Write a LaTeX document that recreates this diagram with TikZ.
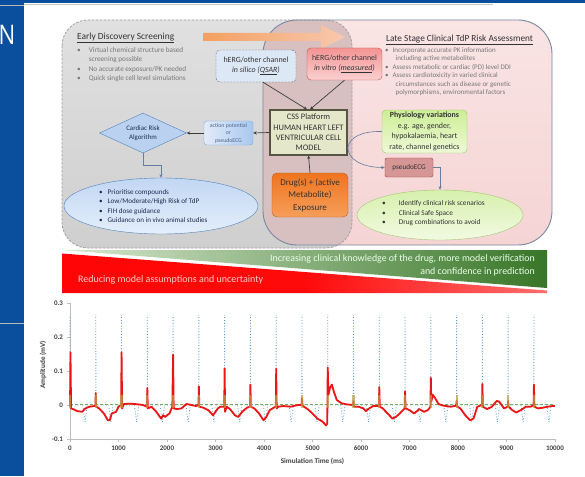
\documentclass[tikz,border=0pt]{standalone}
\usepackage{fontspec}
\setmainfont{Carlito}
\newfontfamily\nfont{Open Sans}
\usetikzlibrary{arrows.meta,shapes.geometric}
\definecolor{bandblue}{RGB}{10,79,158}
\definecolor{grayA}{RGB}{224,224,224}
\definecolor{grayB}{RGB}{207,207,207}
\definecolor{pinkA}{RGB}{250,228,228}
\definecolor{pinkB}{RGB}{245,212,212}
\definecolor{mauve}{RGB}{216,192,193}
\definecolor{pinkborder}{RGB}{120,136,160}
\definecolor{orngA}{RGB}{244,160,96}
\definecolor{orngB}{RGB}{247,200,175}
\definecolor{bultext}{RGB}{120,120,120}
\definecolor{darktext}{RGB}{50,50,50}
\definecolor{connblue}{RGB}{100,125,160}
\definecolor{darkline}{RGB}{60,60,60}
\definecolor{silicofill}{RGB}{220,232,246}
\definecolor{vitroA}{RGB}{244,148,148}
\definecolor{vitroB}{RGB}{250,208,208}
\definecolor{vitroborder}{RGB}{192,80,80}
\definecolor{cssfill}{RGB}{229,231,202}
\definecolor{cssborder}{RGB}{85,85,65}
\definecolor{drugA}{RGB}{239,116,32}
\definecolor{drugB}{RGB}{247,158,90}
\definecolor{apA}{RGB}{226,236,250}
\definecolor{apB}{RGB}{168,200,240}
\definecolor{aptext}{RGB}{80,100,140}
\definecolor{riskfill}{RGB}{186,210,240}
\definecolor{riskborder}{RGB}{79,129,189}
\definecolor{bellA}{RGB}{194,215,243}
\definecolor{bellB}{RGB}{228,238,251}
\definecolor{navytext}{RGB}{30,45,80}
\definecolor{physA}{RGB}{205,238,150}
\definecolor{physB}{RGB}{238,249,214}
\definecolor{physborder}{RGB}{150,200,100}
\definecolor{pseudofill}{RGB}{214,150,150}
\definecolor{pseudoborder}{RGB}{160,60,60}
\definecolor{gellA}{RGB}{214,240,172}
\definecolor{gellB}{RGB}{242,250,226}
\definecolor{gellborder}{RGB}{160,200,110}
\definecolor{bandgreenA}{RGB}{215,232,206}
\definecolor{bandgreenB}{RGB}{56,118,40}
\definecolor{axisgray}{RGB}{190,190,190}
\definecolor{ticktext}{RGB}{64,64,64}
\definecolor{ecgblue}{RGB}{91,155,213}
\definecolor{ecggreen}{RGB}{112,176,80}
\definecolor{ecgred}{RGB}{236,20,20}
\definecolor{ecgolive}{RGB}{190,160,70}
\pgfdeclarehorizontalshading{redfade}{100bp}{color(0bp)=(red); color(50bp)=(red!96!white); color(100bp)=(red!18!white)}
\begin{document}
\begin{tikzpicture}[x=1pt,y=-1pt,
  boxbase/.style={align=center, inner sep=1pt, text=darktext},
  silicobox/.style={boxbase, draw=darkline!80, dashed, dash pattern=on 2pt off 1.2pt, fill=silicofill, rounded corners=4pt, minimum width=80pt, minimum height=32pt, font=\fontsize{7.9}{10}\selectfont},
  vitrobox/.style={boxbase, draw=vitroborder, top color=vitroA, bottom color=vitroB, rounded corners=4pt, minimum width=75pt, minimum height=32pt, font=\fontsize{7.9}{10}\selectfont},
  cssbox/.style={boxbase, draw=cssborder, line width=1.1pt, fill=cssfill, minimum width=77pt, minimum height=45pt, font=\fontsize{8.4}{10.3}\selectfont},
  drugbox/.style={boxbase, draw=drugA!80!black, line width=0.4pt, top color=drugA, bottom color=drugB, rounded corners=5pt, minimum width=76pt, minimum height=44pt, font=\fontsize{9}{12.5}\selectfont, text=black!80},
  apbox/.style={boxbase, draw=riskborder!70, left color=apA, right color=apB, rounded corners=3pt, minimum width=49pt, minimum height=24pt, font=\fontsize{5.8}{7.5}\selectfont, text=aptext},
  riskdia/.style={boxbase, diamond, aspect=2.175, inner sep=0pt, draw=riskborder, fill=riskfill, minimum width=87pt, minimum height=40pt, font=\fontsize{6.9}{9}\selectfont, text=navytext},
  blueell/.style={ellipse, draw=riskborder, top color=bellA, bottom color=bellB, minimum width=194pt, minimum height=56pt, inner sep=0pt},
  physbox/.style={boxbase, draw=physborder, top color=physA, bottom color=physB, rounded corners=4pt, minimum width=85pt, minimum height=43pt, font=\fontsize{7.9}{10.6}\selectfont},
  pseudobox/.style={boxbase, draw=pseudoborder, fill=pseudofill, rounded corners=2pt, minimum width=48pt, minimum height=19pt, font=\fontsize{7.2}{8}\selectfont},
  greenell/.style={ellipse, draw=gellborder, top color=gellA, bottom color=gellB, minimum width=166pt, minimum height=50pt, inner sep=0pt},
  listtxt/.style={anchor=base west, inner sep=0pt, align=left},
  conn/.style={draw=connblue, line width=0.6pt},
  conna/.style={conn, -{Stealth[length=3.5pt,width=3pt]}},
  darka/.style={draw=darkline, line width=0.7pt, -{Stealth[length=3.5pt,width=3.2pt]}},
  ticklbl/.style={font=\bfseries\fontsize{7}{8}\selectfont, text=ticktext, inner sep=0pt},
  axisline/.style={draw=axisgray, line width=0.6pt},
  bandtxt/.style={inner sep=0pt, font=\fontsize{9.9}{11}\selectfont}
]
\useasboundingbox (0,0) rectangle (585,476);
\fill[white] (0,0) rectangle (585,476);

% slide frame
\fill[bandblue] (0,0) rectangle (24,476);
\fill[bandblue] (0,0) rectangle (585,3.5);
\draw[gray!45, line width=0.7pt] (24,4) -- (493,4);
\draw[gray!55, line width=0.9pt] (0,5) -- (24,5);
\draw[gray!55, line width=0.9pt] (0,323) -- (24,323);
\node[text=white, font=\nfont\fontsize{27}{27}\selectfont, anchor=west, inner sep=0pt, xscale=0.82] (nletter) at (-1.5,35) {N};

% regions
\shade[top color=grayA, bottom color=grayB, rounded corners=26pt] (62,20) rectangle (352,248);
\shade[top color=pinkA, bottom color=pinkB, rounded corners=34pt] (263,20) rectangle (552,245);
\begin{scope}
  \clip[rounded corners=26pt] (62,20) rectangle (352,248);
  \fill[mauve, rounded corners=34pt] (263,20) rectangle (552,245);
\end{scope}
\draw[gray!75, line width=0.8pt, dash pattern=on 2.5pt off 1.5pt, rounded corners=26pt] (62,20) rectangle (352,248);
\draw[pinkborder, line width=0.9pt, rounded corners=34pt] (263,20) rectangle (552,245);

% orange arrow
\shade[left color=orngA, right color=orngB] (203,33) -- (321,33) -- (321,25) -- (345,37) -- (321,49) -- (321,41) -- (203,41) -- cycle;

% headers and lists
\node[anchor=west, inner sep=0pt, font=\fontsize{9.4}{11}\selectfont, text=darktext] (edsHead) at (77,38) {\underline{Early Discovery Screening}};
\node[listtxt, font=\fontsize{7.2}{9.4}\selectfont, text=bultext] (edsList) at (77,52.3) {\begin{tabular}[t]{@{}l@{\hspace{8pt}}l@{}}\textbullet & Virtual chemical structure based\\ & screening possible\\ \textbullet & No accurate exposure/PK needed\\ \textbullet & Quick single cell level simulations\end{tabular}};

\node[anchor=west, inner sep=0pt, font=\fontsize{9.3}{11}\selectfont, text=darktext] (lsHead) at (386,40) {\underline{Late Stage Clinical TdP Risk Assessment}};
\node[listtxt, font=\fontsize{7}{8.45}\selectfont, text=bultext] (lsList) at (385,52.3) {\begin{tabular}[t]{@{}l@{\hspace{4pt}}l@{}}\textbullet & Incorporate accurate PK information\\ & \hspace{3pt}including active metabolites\\ \textbullet & Assess metabolic or cardiac (PD) level DDI\\ \textbullet & Assess cardiotoxicity in varied clinical\\ & \hspace{3pt}circumstances such as disease or genetic\\ & \hspace{3pt}polymorphisms, environmental factors\end{tabular}};

% nodes
\node[silicobox] (silico) at (256,66) {hERG/other channel\\\textit{in silico} \textit{(\underline{QSAR})}};
\node[vitrobox] (vitro) at (344.5,64) {hERG/other channel\\\textit{in vitro} \textit{(\underline{measured})}};
\node[cssbox] (css) at (308.5,132.5) {CSS Platform\\HUMAN HEART LEFT\\VENTRICULAR CELL\\MODEL};
\node[drugbox] (drug) at (310,195) {Drug(s) + (active\\Metabolite)\\Exposure};
\node[apbox] (ap) at (228.5,133) {action potential\\or\\pseudoECG};
\node[riskdia] (risk) at (143,133) {Cardiac Risk\\Algorithm};
\node[blueell] (outL) at (161,206) {};
\node[listtxt, font=\fontsize{7.1}{9.4}\selectfont, text=navytext] (outLtxt) at (99,194.3) {\begin{tabular}[t]{@{}l@{\hspace{5pt}}l@{}}\textbullet & Prioritise compounds\\ \textbullet & Low/Moderate/High Risk of TdP\\ \textbullet & FIH dose guidance\\ \textbullet & Guidance on in vivo animal studies\end{tabular}};
\node[physbox] (phys) at (424.5,131.5) {\textbf{Physiology variations}\\e.g. age, gender,\\hypokalaemia, heart\\rate, channel genetics};
\node[pseudobox] (pseudo) at (409,167.5) {pseudoECG};
\node[greenell] (outR) at (440,215) {};
\node[listtxt, font=\fontsize{7.3}{9.6}\selectfont, text=darktext] (outRtxt) at (382,205.5) {\begin{tabular}[t]{@{}l@{\hspace{13pt}}l@{}}\textbullet & Identify clinical risk scenarios\\ \textbullet & Clinical Safe Space\\ \textbullet & Drug combinations to avoid\end{tabular}};

% connectors
\draw[darka] ([xshift=7pt]silico.south) -- ([xshift=-1.5pt]css.north);
\draw[darka] (vitro.south) -- ([xshift=1.5pt]css.north);
\draw[darka] (drug.north) -- (css.south);
\draw[darka] (css.west) -- (ap.east);
\draw[darka] (ap.west) -- (risk.east);
\draw[conna] (risk.south) -- ++(0,12) -| (outL.north);
\coordinate (cssR) at (348,147);
\draw[conn] (phys.west) .. controls (362,131) and (350,137) .. (cssR);
\draw[conna] (cssR) .. controls (347,159) and (362,167.5) .. (pseudo.west);
\draw[conna] (pseudo.east) -| (outR.north);

% gradient band
\shade[left color=bandgreenA, right color=bandgreenB] (62,250) -- (547,250) -- (547,288) -- cycle;
\shade[shading=redfade] (62,253.5) -- (547,290.5) -- (547,293) -- (62,293) -- cycle;
\node[bandtxt, anchor=east, text=white!92!green] (bandG1) at (535,259) {Increasing clinical knowledge of the drug, more model verification};
\node[bandtxt, anchor=east, text=white!92!green] (bandG2) at (535,272) {and confidence in prediction};
\node[bandtxt, anchor=west, text=red!20!white, font=\fontsize{10}{11}\selectfont] (bandR) at (78,280) {Reducing model assumptions and uncertainty};

% chart
\begin{scope}[shift={(70,405)}, x=0.0485pt, y=340pt]
  \draw[axisline] (0,-0.1) -- (0,0.3);
  \draw[axisline] (0,-0.1) -- (10000,-0.1);
  \foreach \v/\l in {-0.1/-0.1,0/0,0.1/0.1,0.2/0.2,0.3/0.3} {
    \draw[axisline] (-60,\v) -- (0,\v);
    \node[ticklbl, anchor=east] (yl\l) at (-140,\v) {\l};
  }
  \foreach \t in {0,1000,...,10000} {
    \draw[axisline] (\t,-0.1) -- (\t,-0.109);
    \node[ticklbl] (xl\t) at (\t,-0.127) {\t};
  }
  \node[ticklbl, font=\bfseries\fontsize{7.2}{8}\selectfont] (xtitle) at (5000,-0.165) {Simulation Time (ms)};
  \node[ticklbl, rotate=90, font=\bfseries\fontsize{7.2}{8}\selectfont] (ytitle) at (-557,0.118) {Amplitude (mV)};
  % green dashed
  \draw[ecggreen, line width=0.8pt, dash pattern=on 3pt off 2pt] (0,0.002) -- (10000,0.002);
  % blue dotted
  \foreach \k in {0,...,18} {
    \pgfmathsetmacro\t{\k*531.5}
    \draw[ecgblue, line width=0.8pt, dotted] ({\t-3},0) -- (\t,0.265) -- ({\t+4},0) -- ({\t+265},0) -- ({\t+310},-0.05) -- ({\t+355},0) -- ({\t+525},0);
  }
  % red
  \draw[ecgred, line width=1.8pt, line join=round] plot coordinates {
  (0,-0.005) (10,0.155) (22,-0.01) (60,-0.012) (150,-0.018) (250,-0.02) (320,-0.01) (400,-0.005) (500,-0.003) (525,0)
  (531,0.035) (540,-0.005) (600,-0.01) (700,-0.025) (780,-0.045) (820,-0.045) (860,-0.025) (950,-0.02) (1000,-0.005) (1055,0)
  (1063,0.155) (1075,-0.01) (1110,0.003) (1250,0.004) (1400,0.002) (1500,0) (1585,-0.005)
  (1594,0.05) (1605,-0.01) (1680,-0.005) (1780,-0.02) (1880,-0.04) (1920,-0.03) (1960,-0.035) (2050,-0.025) (2110,-0.005)
  (2126,0.148) (2138,-0.01) (2200,-0.012) (2300,-0.01) (2400,0.003) (2500,0) (2600,-0.003) (2650,0)
  (2657,0.055) (2667,-0.005) (2750,-0.008) (2850,-0.015) (2950,-0.03) (3000,-0.02) (3050,-0.01) (3100,-0.005) (3180,-0.005)
  (3189,0.108) (3198,-0.02) (3230,-0.005) (3300,-0.012) (3400,-0.03) (3470,-0.035) (3550,-0.02) (3650,-0.008) (3712,-0.005)
  (3720,0.06) (3730,-0.005) (3800,-0.01) (3900,-0.025) (3990,-0.045) (4050,-0.035) (4120,-0.015) (4200,-0.008) (4245,-0.005)
  (4252,0.107) (4262,-0.01) (4300,-0.005) (4400,-0.003) (4550,-0.005) (4700,0) (4775,0)
  (4783,0.02) (4795,-0.002) (4900,-0.012) (5000,-0.025) (5100,-0.04) (5200,-0.048) (5280,-0.06) (5305,-0.055)
  (5315,0.11) (5330,0.03) (5360,0.05) (5400,0.06) (5440,0.04) (5500,0.015) (5600,0.005) (5700,0.002) (5840,0)
  (5846,0.012) (5855,-0.005) (5950,-0.005) (6050,-0.01) (6100,-0.018) (6150,-0.012) (6250,-0.003) (6370,-0.003)
  (6378,0.053) (6388,-0.005) (6450,-0.01) (6550,-0.025) (6650,-0.04) (6720,-0.035) (6800,-0.025) (6900,-0.01)
  (6909,0.04) (6920,-0.01) (7000,-0.015) (7100,-0.025) (7200,-0.012) (7300,-0.02) (7380,-0.015) (7432,-0.005)
  (7441,0.08) (7450,0.01) (7480,0.03) (7530,0.02) (7600,0.003) (7700,-0.002) (7850,-0.005) (7965,-0.002)
  (7972,0.012) (7985,-0.005) (8050,-0.01) (8150,-0.03) (8250,-0.045) (8320,-0.04) (8400,-0.005) (8495,0)
  (8504,0.062) (8514,-0.005) (8600,-0.012) (8700,-0.005) (8800,0.012) (8850,0.01) (8950,-0.01) (9028,-0.005)
  (9035,0.012) (9045,-0.005) (9120,-0.015) (9200,-0.022) (9300,-0.015) (9400,-0.005) (9500,-0.005) (9560,0)
  (9567,0.06) (9577,-0.005) (9650,-0.01) (9750,-0.008) (9850,-0.005) (9950,-0.003) (10000,-0.003)
  };
  \foreach \k in {0,...,18} {
    \pgfmathsetmacro\t{\k*531.5}
    \draw[ecgolive, opacity=0.7, line width=2.2pt] (\t,-0.008) -- (\t,0.03);
  }
\end{scope}
\end{tikzpicture}
\end{document}
